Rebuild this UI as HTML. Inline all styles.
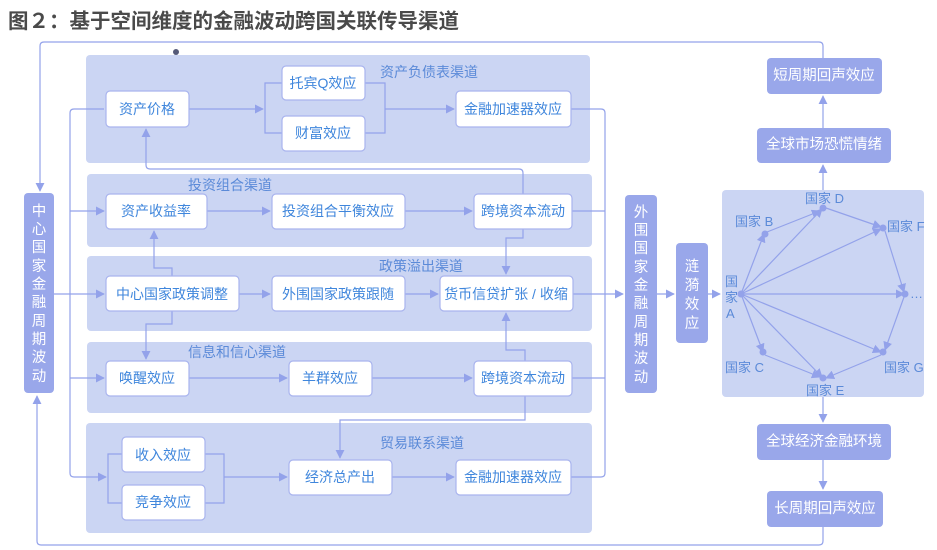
<!DOCTYPE html>
<html><head><meta charset="utf-8"><style>
html,body{margin:0;padding:0;background:#fff;}
svg{display:block;font-family:"Liberation Sans","Noto Sans CJK SC",sans-serif;}
.p{fill:#cbd5f3;}
.n{fill:#fff;stroke:#a9b4ee;stroke-width:1.2;}
.d{fill:#99a7ea;}
.t{fill:#3f86dc;font-size:14px;text-anchor:middle;dominant-baseline:central;}
.w{fill:#fff;font-size:14.5px;text-anchor:middle;dominant-baseline:central;}
.c{fill:#5b8ad8;font-size:14px;}
.l{fill:none;stroke:#93a2ea;stroke-width:1.2;}
</style></head><body>
<svg width="937" height="550" viewBox="0 0 937 550">
<defs><marker id="a" viewBox="0 0 10 10" refX="9" refY="5" markerWidth="9" markerHeight="9" orient="auto" markerUnits="userSpaceOnUse"><path d="M0,0L10,5L0,10z" fill="#93a2ea"/></marker></defs>
<text x="8" y="28" style="font-size:20.5px;font-weight:bold;fill:#4a4a4a">图２：基于空间维度的金融波动跨国关联传导渠道</text>

<path class="l" d="M823,58 V46 Q823,42 819,42 H44 Q40,42 40,46 V191" marker-end="url(#a)"/>
<circle cx="176" cy="52" r="3" fill="#555a78"/>
<path class="l" d="M823,527 V541 Q823,545 819,545 H41 Q37,545 37,541 V396" marker-end="url(#a)"/>

<rect class="p" x="86" y="55" width="504" height="108" rx="4"/>
<rect class="p" x="87" y="174" width="505" height="73" rx="4"/>
<rect class="p" x="87" y="256" width="505" height="75" rx="4"/>
<rect class="p" x="87" y="342" width="505" height="71" rx="4"/>
<rect class="p" x="86" y="423" width="506" height="110" rx="4"/>
<text class="c" x="380" y="77">资产负债表渠道</text>
<text class="c" x="188" y="190">投资组合渠道</text>
<text class="c" x="379" y="271">政策溢出渠道</text>
<text class="c" x="188" y="357">信息和信心渠道</text>
<text class="c" x="380" y="448">贸易联系渠道</text>

<rect class="d" x="24" y="193" width="30" height="200" rx="4"/>
<text class="w"><tspan x="39" y="212">中</tspan><tspan x="39" y="230">心</tspan><tspan x="39" y="248">国</tspan><tspan x="39" y="267">家</tspan><tspan x="39" y="285">金</tspan><tspan x="39" y="303">融</tspan><tspan x="39" y="322">周</tspan><tspan x="39" y="340">期</tspan><tspan x="39" y="358">波</tspan><tspan x="39" y="377">动</tspan></text>

<path class="l" d="M104,109 H74 Q70,109 70,113 V473 Q70,477 74,477 H106" marker-end="url(#a)"/>
<path class="l" d="M70,211 H104" marker-end="url(#a)"/>
<path class="l" d="M70,378 H104" marker-end="url(#a)"/>
<path class="l" d="M54,294 H104" marker-end="url(#a)"/>

<path class="l" d="M189,109 H263" marker-end="url(#a)"/>
<path class="l" d="M282,83 H265 V133 H282"/>
<path class="l" d="M365,83 H385 V133 H365"/>
<path class="l" d="M385,109 H454" marker-end="url(#a)"/>
<path class="l" d="M571,109 H601 Q605,109 605,113 V473 Q605,477 601,477 H571"/>
<path class="l" d="M572,211 H605"/>
<path class="l" d="M572,378 H605"/>
<path class="l" d="M573,294 H623" marker-end="url(#a)"/>
<path class="l" d="M523,194 V173 Q523,169 519,169 H150 Q146,169 146,165 V129" marker-end="url(#a)"/>

<path class="l" d="M207,211 H270" marker-end="url(#a)"/>
<path class="l" d="M405,211 H472" marker-end="url(#a)"/>
<path class="l" d="M523,229 V238 H506 V274" marker-end="url(#a)"/>
<path class="l" d="M172,276 V268 H154 V231" marker-end="url(#a)"/>

<path class="l" d="M239,294 H270" marker-end="url(#a)"/>
<path class="l" d="M405,294 H438" marker-end="url(#a)"/>
<path class="l" d="M172,311 V324 H146 V359" marker-end="url(#a)"/>

<path class="l" d="M189,378 H287" marker-end="url(#a)"/>
<path class="l" d="M372,378 H472" marker-end="url(#a)"/>
<path class="l" d="M525,361 V350 H506 V313" marker-end="url(#a)"/>
<path class="l" d="M525,396 V420 H340 V458" marker-end="url(#a)"/>

<path class="l" d="M122,454 H108 V503 H122"/>
<path class="l" d="M205,454 H224 V503 H205"/>
<path class="l" d="M224,477 H287" marker-end="url(#a)"/>
<path class="l" d="M392,477 H454" marker-end="url(#a)"/>

<rect class="n" x="106" y="91" width="83" height="36" rx="4"/><text class="t" x="147" y="109">资产价格</text>
<rect class="n" x="282" y="66" width="83" height="34" rx="4"/><text class="t" x="323" y="83">托宾Q效应</text>
<rect class="n" x="282" y="116" width="83" height="35" rx="4"/><text class="t" x="323" y="133">财富效应</text>
<rect class="n" x="456" y="91" width="115" height="36" rx="4"/><text class="t" x="513" y="109">金融加速器效应</text>
<rect class="n" x="106" y="194" width="101" height="35" rx="4"/><text class="t" x="156" y="211">资产收益率</text>
<rect class="n" x="272" y="194" width="133" height="35" rx="4"/><text class="t" x="338" y="211">投资组合平衡效应</text>
<rect class="n" x="474" y="194" width="98" height="35" rx="4"/><text class="t" x="523" y="211">跨境资本流动</text>
<rect class="n" x="106" y="276" width="133" height="35" rx="4"/><text class="t" x="172" y="294">中心国家政策调整</text>
<rect class="n" x="272" y="276" width="133" height="35" rx="4"/><text class="t" x="338" y="294">外围国家政策跟随</text>
<rect class="n" x="440" y="276" width="133" height="35" rx="4"/><text class="t" x="506" y="294">货币信贷扩张 / 收缩</text>
<rect class="n" x="106" y="361" width="83" height="35" rx="4"/><text class="t" x="147" y="378">唤醒效应</text>
<rect class="n" x="289" y="361" width="83" height="35" rx="4"/><text class="t" x="330" y="378">羊群效应</text>
<rect class="n" x="474" y="361" width="98" height="35" rx="4"/><text class="t" x="523" y="378">跨境资本流动</text>
<rect class="n" x="122" y="437" width="83" height="35" rx="4"/><text class="t" x="163" y="455">收入效应</text>
<rect class="n" x="122" y="485" width="83" height="35" rx="4"/><text class="t" x="163" y="502">竞争效应</text>
<rect class="n" x="289" y="460" width="103" height="35" rx="4"/><text class="t" x="340" y="477">经济总产出</text>
<rect class="n" x="456" y="460" width="115" height="35" rx="4"/><text class="t" x="513" y="477">金融加速器效应</text>

<rect class="d" x="625" y="195" width="32" height="198" rx="4"/>
<text class="w"><tspan x="641" y="213">外</tspan><tspan x="641" y="231">围</tspan><tspan x="641" y="249">国</tspan><tspan x="641" y="268">家</tspan><tspan x="641" y="286">金</tspan><tspan x="641" y="304">融</tspan><tspan x="641" y="323">周</tspan><tspan x="641" y="341">期</tspan><tspan x="641" y="359">波</tspan><tspan x="641" y="378">动</tspan></text>
<path class="l" d="M657,294 H674" marker-end="url(#a)"/>
<rect class="d" x="676" y="243" width="32" height="100" rx="4"/>
<text class="w"><tspan x="692" y="267">涟</tspan><tspan x="692" y="286">漪</tspan><tspan x="692" y="305">效</tspan><tspan x="692" y="324">应</tspan></text>
<path class="l" d="M708,294 H720" marker-end="url(#a)"/>

<rect class="p" x="722" y="190" width="202" height="207" rx="4"/>
<g class="l" stroke-width="1">
<path d="M741,294 L764,234" marker-end="url(#a)"/>
<path d="M741,294 L822,209" marker-end="url(#a)"/>
<path d="M741,294 L881,229" marker-end="url(#a)"/>
<path d="M741,294 L904,294" marker-end="url(#a)"/>
<path d="M741,294 L881,352" marker-end="url(#a)"/>
<path d="M741,294 L822,377" marker-end="url(#a)"/>
<path d="M741,294 L763,352" marker-end="url(#a)"/>
<path d="M767,232 L820,211" marker-end="url(#a)"/>
<path d="M826,208 L881,227" marker-end="url(#a)"/>
<path d="M885,231 L904,292" marker-end="url(#a)"/>
<path d="M904,297 L885,350" marker-end="url(#a)"/>
<path d="M881,355 L826,378" marker-end="url(#a)"/>
<path d="M765,355 L820,377" marker-end="url(#a)"/>
</g>
<g fill="#93a2ea"><circle cx="741" cy="294" r="3.5"/><circle cx="765" cy="234" r="3.5"/><circle cx="823" cy="208" r="3.5"/><circle cx="883" cy="228" r="3.5"/><circle cx="905" cy="294" r="3.5"/><circle cx="883" cy="352" r="3.5"/><circle cx="823" cy="378" r="3.5"/><circle cx="763" cy="352" r="3.5"/></g>
<g class="c" style="font-size:13px">
<text x="805" y="203">国家 D</text>
<text x="735" y="226">国家 B</text>
<text x="887" y="231">国家 F</text>
<text x="725" y="286">国</text><text x="725" y="302">家</text><text x="726" y="318">A</text>
<text x="910" y="298">…</text>
<text x="725" y="372">国家 C</text>
<text x="884" y="372">国家 G</text>
<text x="806" y="395">国家 E</text>
</g>

<path class="l" d="M823,190 V165" marker-end="url(#a)"/>
<path class="l" d="M823,128 V96" marker-end="url(#a)"/>
<path class="l" d="M823,397 V422" marker-end="url(#a)"/>
<path class="l" d="M823,460 V489" marker-end="url(#a)"/>
<rect class="d" x="767" y="58" width="115" height="36" rx="4"/><text class="w" x="824" y="76">短周期回声效应</text>
<rect class="d" x="757" y="128" width="134" height="35" rx="4"/><text class="w" x="824" y="145">全球市场恐慌情绪</text>
<rect class="d" x="757" y="424" width="134" height="36" rx="4"/><text class="w" x="824" y="442">全球经济金融环境</text>
<rect class="d" x="767" y="491" width="116" height="36" rx="4"/><text class="w" x="825" y="509">长周期回声效应</text>
</svg>
</body></html>
